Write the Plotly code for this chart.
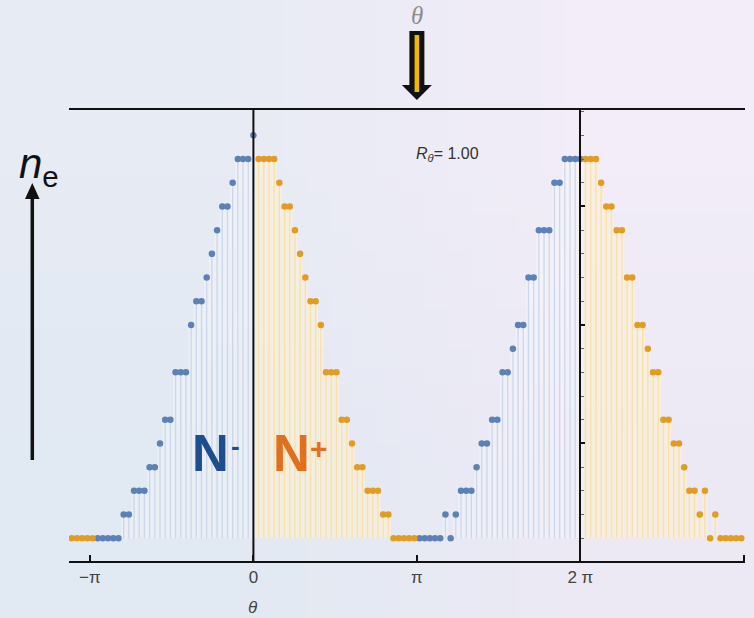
import base64
import struct
import zlib

import numpy as np
import plotly.graph_objects as go

# ---- data -------------------------------------------------------------
# sample number k, angle theta = k * 2*pi/63
sample_k = list(range(-35, 95))
STEP = 2 * np.pi / 63
theta = [k * STEP for k in sample_k]

# electron count n_e at each sample
n_e = [
    1, 1, 1, 1, 1,                      # k -35 .. -31
    1, 1, 1, 1, 1, 2, 2, 3, 3, 3,       # k -30 .. -21
    4, 4, 5, 6, 6, 8, 8, 8, 10, 11,     # k -20 .. -11
    11, 12, 13, 14, 15, 15, 16, 17, 17, 17,  # k -10 .. -1
    18,                                 # k 0
    17, 17, 17, 17, 16, 15, 15, 14, 13, 12,  # k 1 .. 10
    11, 11, 10, 8, 8, 8, 6, 6, 5, 4,    # k 11 .. 20
    4, 3, 3, 3, 2, 2, 1, 1, 1, 1,       # k 21 .. 30
    1, 1, 1, 1, 1, 1, 2, 1, 2, 3,       # k 31 .. 40
    3, 3, 4, 5, 5, 6, 6, 8, 8, 9,       # k 41 .. 50
    10, 10, 12, 12, 14, 14, 14, 16, 16, 17,  # k 51 .. 60
    17, 17, 17,                         # k 61 .. 63
    17, 17, 17, 16, 15, 15, 14, 14, 12, 12,  # k 64 .. 73
    10, 10, 9, 8, 8, 6, 6, 5, 5, 4,     # k 74 .. 83
    3, 3, 2, 3, 1, 2, 1, 1, 1, 1, 1,    # k 84 .. 94
]

# which population each sample belongs to
side = (["N+"] * 5 + ["N-"] * 31 + ["N+"] * 31 + ["N-"] * 32 + ["N+"] * 31)

# x-axis ticks
tick_vals = [-np.pi, 0, np.pi, 2 * np.pi, 3 * np.pi]
tick_text = ["\u2212\u03c0", "0", "\u03c0", "2 \u03c0", ""]

R_theta = 1.00

# ---- styling ----------------------------------------------------------
BLUE = "#5E81B5"
ORANGE = "#E19C24"
FONT = "Liberation Sans, Arial, sans-serif"

W, H = 754, 618
PL, PR, PT, PB = 69, 745, 110, 561   # plot box in pixels


def fx(px):
    return (px - PL) / (PR - PL)


def fy(py):
    return (PB - py) / (PB - PT)


def png_uri(rows):
    h, w = len(rows), len(rows[0])
    raw = b"".join(b"\x00" + bytes(c for p in row for c in p) for row in rows)

    def chunk(tag, data):
        return (struct.pack(">I", len(data)) + tag + data
                + struct.pack(">I", zlib.crc32(tag + data) & 0xFFFFFFFF))

    png = (b"\x89PNG\r\n\x1a\n"
           + chunk(b"IHDR", struct.pack(">IIBBBBB", w, h, 8, 2, 0, 0, 0))
           + chunk(b"IDAT", zlib.compress(raw))
           + chunk(b"IEND", b""))
    return "data:image/png;base64," + base64.b64encode(png).decode()


fig = go.Figure()

groups = {
    "N-": dict(dot=BLUE, fill="rgba(255,255,255,0.30)", stem="rgba(200,212,232,0.9)"),
    "N+": dict(dot=ORANGE, fill="rgba(255,242,210,0.60)", stem="rgba(246,222,170,0.9)"),
}

for name, st in groups.items():
    xs = [t for t, s in zip(theta, side) if s == name]
    vs = [v for v, s in zip(n_e, side) if s == name]
    # pale filling under the points
    fig.add_trace(go.Bar(x=xs, y=[v - 1 for v in vs], base=1, width=STEP,
                         marker=dict(color=st["fill"], line=dict(width=0)),
                         hoverinfo="skip", showlegend=False))
    # drop lines to the baseline
    sx, sy = [], []
    for t, v in zip(xs, vs):
        if v > 1:
            sx += [t, t, None]
            sy += [v, 1, None]
    fig.add_trace(go.Scatter(x=sx, y=sy, mode="lines",
                             line=dict(color=st["stem"], width=1.3),
                             hoverinfo="skip", showlegend=False))

for name, st in groups.items():
    xs = [t for t, s in zip(theta, side) if s == name]
    vs = [v for v, s in zip(n_e, side) if s == name]
    fig.add_trace(go.Scatter(x=xs, y=vs, mode="markers",
                             marker=dict(color=st["dot"], size=6.5, line=dict(width=0)),
                             name=name, showlegend=False))

x_range = [-1.128 * np.pi, 3.007 * np.pi]
y_range = [0.04, 19.07]
ypos = (2 * np.pi - x_range[0]) / (x_range[1] - x_range[0])

fig.update_layout(
    width=W, height=H,
    margin=dict(l=PL, r=W - PR, t=PT, b=H - PB, pad=0),
    paper_bgcolor="#eaedf5",
    plot_bgcolor="rgba(0,0,0,0)",
    barmode="overlay",
    showlegend=False,
    font=dict(family=FONT, color="#444"),
    xaxis=dict(range=x_range, tickvals=tick_vals, ticktext=tick_text,
               ticks="inside", ticklen=6, tickwidth=1.5, tickcolor="#111",
               showline=True, linecolor="#111", linewidth=2, mirror=True,
               showgrid=False, zeroline=False, automargin=False,
               tickfont=dict(size=17, color="#444", family=FONT)),
    yaxis=dict(range=y_range, anchor="free", position=ypos, side="left",
               tickvals=[5, 10, 15], ticks="inside", ticklen=4, tickwidth=2,
               tickcolor="#111", showticklabels=False,
               minor=dict(dtick=1, ticks="inside", ticklen=3, tickwidth=1,
                          tickcolor="#666"),
               showline=True, linecolor="#111", linewidth=2,
               showgrid=False, zeroline=False, automargin=False),
)

# soft background wash
bg = [[(231, 235, 244), (242, 237, 248)],
      [(225, 233, 242), (236, 233, 245)]]
fig.add_layout_image(source=png_uri(bg), xref="paper", yref="paper",
                     x=fx(0), y=fy(0), sizex=fx(W) - fx(0), sizey=fy(0) - fy(H),
                     xanchor="left", yanchor="top", sizing="stretch", layer="below")

# vertical line at theta = 0
fig.add_shape(type="line", xref="x", yref="paper", x0=0, x1=0, y0=0, y1=1,
              line=dict(color="#111", width=2), layer="above")

# incoming arrow at theta = pi
arrow_common = dict(xref="x", yref="paper", xsizemode="pixel", ysizemode="pixel",
                    xanchor=np.pi, yanchor=1, layer="above")
fig.add_shape(type="rect", x0=-7.5, x1=7.5, y0=25, y1=79,
              fillcolor="#111", line=dict(width=0), **arrow_common)
fig.add_shape(type="path", path="M -15 25 L 15 25 L 0 10 Z",
              fillcolor="#111", line=dict(width=0), **arrow_common)
fig.add_shape(type="rect", x0=-2.3, x1=2.3, y0=18, y1=75,
              fillcolor="#F2B705", line=dict(width=0), **arrow_common)
fig.add_annotation(x=np.pi, xref="x", y=fy(16), yref="paper", text="<i>\u03b8</i>",
                   showarrow=False, xanchor="center", yanchor="middle",
                   font=dict(size=25, color="#8c8c8c", family="Liberation Serif, serif"))

# n_e arrow on the left
fig.add_shape(type="line", xref="paper", yref="paper",
              x0=fx(32.3), x1=fx(32.3), y0=fy(460), y1=fy(197),
              line=dict(color="#111", width=3.5))
fig.add_shape(type="path", xref="paper", yref="paper",
              path=f"M {fx(25)} {fy(199)} L {fx(39.6)} {fy(199)} L {fx(32.3)} {fy(183)} Z",
              fillcolor="#111", line=dict(width=0))
fig.add_annotation(x=fx(17), xref="paper", y=fy(166), yref="paper",
                   text="<i>n</i><sub>e</sub>", showarrow=False,
                   xanchor="left", yanchor="middle",
                   font=dict(size=42, color="#111", family=FONT))

# axis title
fig.add_annotation(x=0, xref="x", y=fy(607), yref="paper", text="<i>\u03b8</i>",
                   showarrow=False, xanchor="center", yanchor="middle",
                   font=dict(size=17, color="#444", family=FONT))

# R_theta readout
fig.add_annotation(x=fx(414), xref="paper", y=fy(155), yref="paper",
                   text=f"<i>R</i><sub><i>\u03b8</i></sub>= {R_theta:.2f}",
                   showarrow=False, xanchor="left", yanchor="middle",
                   font=dict(size=16, color="#333", family=FONT))

# population labels
fig.add_annotation(x=fx(210.5), xref="paper", y=fy(453), yref="paper", text="<b>N</b>",
                   showarrow=False, xanchor="center", yanchor="middle",
                   font=dict(size=51, color="#1F4E8C", family=FONT))
fig.add_annotation(x=fx(235.5), xref="paper", y=fy(446), yref="paper", text="<b>-</b>",
                   showarrow=False, xanchor="center", yanchor="middle",
                   font=dict(size=26, color="#1F4E8C", family=FONT))
fig.add_annotation(x=fx(291), xref="paper", y=fy(453), yref="paper", text="<b>N</b>",
                   showarrow=False, xanchor="center", yanchor="middle",
                   font=dict(size=51, color="#E0701E", family=FONT))
fig.add_annotation(x=fx(318.5), xref="paper", y=fy(448), yref="paper", text="<b>+</b>",
                   showarrow=False, xanchor="center", yanchor="middle",
                   font=dict(size=30, color="#E0701E", family=FONT))

fig.write_html("out.html")
